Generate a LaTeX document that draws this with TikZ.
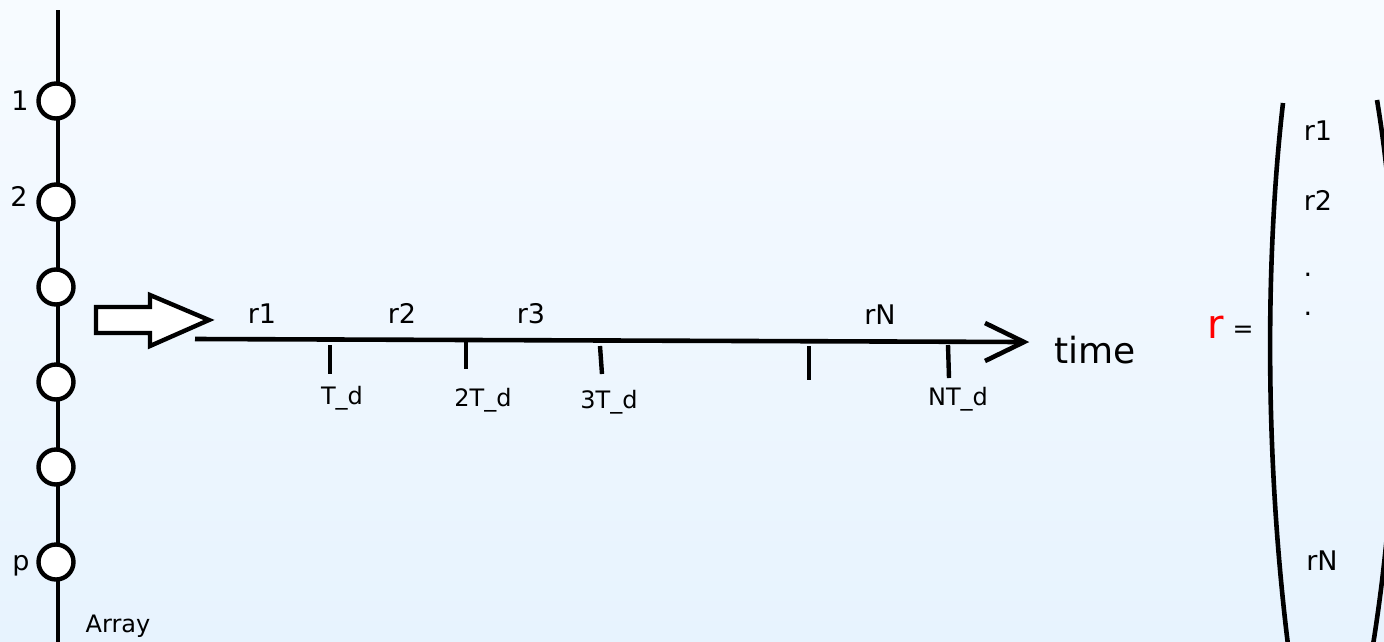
\documentclass[tikz,border=0pt]{standalone}
\usepackage{fontspec}
\setmainfont{DejaVu Sans}
\begin{document}
\begin{tikzpicture}[x=1pt,y=-1pt,
  thick line/.style={line width=4.6pt},
  sensor/.style={circle,draw,fill=white,line width=4.4pt,minimum size=35pt,inner sep=0pt},
  lbl/.style={anchor=base,inner sep=0pt,font=\fontsize{27}{32}\selectfont},
  tlbl/.style={anchor=base,inner sep=0pt,font=\fontsize{24}{28}\selectfont},
  tick/.style={line width=4.4pt}]
\definecolor{bgtop}{HTML}{F7FBFF}
\definecolor{bgbot}{HTML}{E7F3FE}
\useasboundingbox (0,0) rectangle (1384,641);
\shade[top color=bgtop,bottom color=bgbot] (0,0) rectangle (1384,641);
\begin{scope}
\clip (0,0) rectangle (1384,641);
% array line and sensors
\coordinate (atop) at (58,10);
\coordinate (abot) at (58,650);
\draw[thick line] (atop) -- (abot);
\node[sensor] (s1) at (56,101) {};
\node[sensor] (s2) at (56,202) {};
\node[sensor] (s3) at (56,287) {};
\node[sensor] (s4) at (56,382) {};
\node[sensor] (s5) at (56,467) {};
\node[sensor] (s6) at (56,562) {};
\node[lbl] (l1) at (20,110) {1};
\node[lbl] (l2) at (19,206) {2};
\node[lbl] (lp) at (21,570) {p};
\node[tlbl] (arr) at (118,632) {Array};
% hollow arrow
\draw[line width=4.4pt,fill=white,line join=miter]
  (96,307) -- (150,307) -- (150,295) -- (209,320) -- (150,346) -- (150,333) -- (96,333) -- cycle;
% time axis
\coordinate (t0) at (195,339);
\coordinate (t1) at (1024,342);
\coordinate (ha) at (985,323);
\coordinate (hb) at (985,361);
\draw[thick line] (t0) -- (t1);
\draw[thick line,line join=miter] (ha) -- (t1) -- (hb);
\node[anchor=base,inner sep=0pt,font=\fontsize{36}{40}\selectfont] (time) at (1095,363) {time};
% ticks
\draw[tick] (330,345) -- (330,374);
\draw[tick] (466,342) -- (466,369);
\draw[tick] (600,346) -- (602,374);
\draw[tick] (809,346) -- (809,380);
\draw[tick] (948,345) -- (949,378);
\node[tlbl] (td1) at (342,404) {T\_d};
\node[tlbl] (td2) at (483,406) {2T\_d};
\node[tlbl] (td3) at (609,408) {3T\_d};
\node[tlbl] (tdn) at (958,405) {NT\_d};
\node[lbl] (r1) at (262,323) {r1};
\node[lbl] (r2) at (402,323) {r2};
\node[lbl] (r3) at (531,323) {r3};
\node[lbl] (rn) at (880,324) {rN};
% vector
\node[anchor=base,inner sep=0pt,text=red,font=\fontsize{40}{44}\selectfont] (rr) at (1216,338) {r};
\node[anchor=base,inner sep=0pt,font=\fontsize{25}{30}\selectfont] (eq) at (1243,337) {=};
\draw[thick line] (1283,103) .. controls (1266,250) and (1264,450) .. (1288,645);
\draw[thick line] (1377,100) .. controls (1402,250) and (1404,450) .. (1373,645);
\node[lbl] (v1) at (1318,140) {r1};
\node[lbl] (v2) at (1318,210) {r2};
\node[lbl] (d1) at (1308,276) {.};
\node[lbl] (d2) at (1308,315) {.};
\node[lbl] (vn) at (1322,570) {rN};
\end{scope}
\end{tikzpicture}
\end{document}
